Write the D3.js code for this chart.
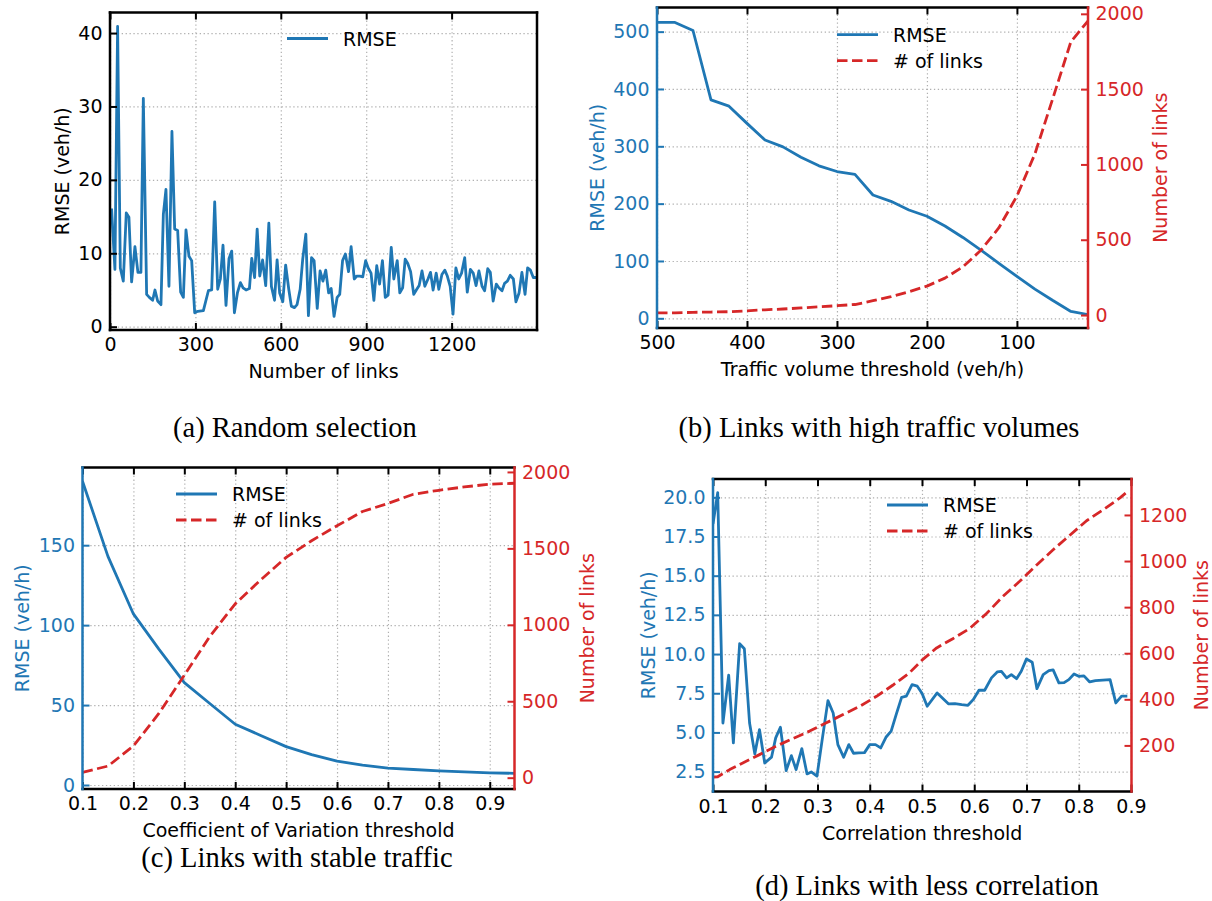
<!DOCTYPE html>
<html><head><meta charset="utf-8">
<script src="https://cdn.jsdelivr.net/npm/d3@7"></script>
<style>body{margin:0;background:#fff}</style>
</head><body><svg id="c" width="1212" height="901" xmlns="http://www.w3.org/2000/svg"></svg>
<script>
// ---------------- DATA ----------------
// (a) Random selection
const randX = [5.6,17.3,26.7,36.2,46.7,57.2,66.5,75.9,87.6,98.1,108.6,117.1,128.7,138.2,149.8,158,167.4,179,187.4,196.6,207.1,217.6,227.2,237.7,248.2,257.7,266.9,277.4,286.9,297.5,308,328,345.6,357.2,367.8,378.3,387.7,397,407.5,418.1,427.6,437,447.6,458.1,467.4,477.9,489.8,
  498,508,517,526,536,547,558,567,578,587,596,607,617,628,637,648,657,668,677,688,697,708,717,728,738,748,758,768,777,787,798,807,817,827,838,847,858,867,878,888,898,907,917,927,937,947,957,967,977,988,
  997,1009,1018,1028,1037,1046,1056,1067,1076,1086,1096,1106,1117,1126,1135,1146,1155,1166,1176,1185,1195,1205,1215,1225,1235,1246,1255,1266,1276,1286,1296,1307,1316,1327,1336,1346,1357,1366,1377,1386,1396,1406,1417,1426,1437,1447,1458,1467,1477,1487,1500];
const randRMSE = [16.1,7.8,40.9,8.0,6.2,15.5,14.9,6.1,10.9,7.4,7.4,31.1,4.4,4.0,3.6,5.0,3.5,3.0,15.3,18.7,5.5,26.6,13.3,13.1,4.7,4.0,13.2,9.6,9.0,1.9,2.1,2.2,4.9,5.0,17.0,5.1,6.5,11.1,2.9,9.3,10.3,1.9,4.6,6.0,5.3,5.0,5.2,
  9.3,6.7,13.3,6.9,9.1,5.6,14.1,5.5,3.6,9.1,4.6,3.4,8.4,5.1,2.8,2.6,3.0,5.1,9.2,12.6,1.5,9.4,9.0,2.5,7.6,6.2,7.7,4.6,5.2,1.4,4.0,4.4,9.0,9.9,7.5,10.9,6.5,6.9,6.9,6.8,9.0,8.0,7.3,3.6,8.3,5.8,9.0,4.0,4.3,10.8,
  6.5,9.0,4.6,5.3,9.2,8.6,7.5,4.4,5.0,5.6,7.6,5.5,6.5,7.4,5.0,7.3,5.1,7.1,7.7,6.9,5.5,1.7,8.0,6.5,7.3,9.4,4.7,7.8,7.3,5.6,7.6,5.5,4.9,7.9,7.4,3.5,5.8,5.3,4.9,5.9,6.2,7.0,6.5,3.4,4.6,7.4,4.4,8.0,7.7,6.7,6.7];
const aXTicks = [0,300,600,900,1200];
const aYTicks = [0,10,20,30,40];

// (b) Links with high traffic volumes
const volX = [500,480,460,440,420,400,380,360,340,320,300,280,260,240,220,200,180,160,140,120,100,80,60,40,20];
const volRMSE = [516,516,502,381,370,340,311,299,281,266,256,251,215,204,189,178,161,141,119,96,73,51,31,12,6];
const volLinks = [15,15,18,20,22,28,35,40,47,55,62,70,95,122,155,192,245,320,430,580,790,1070,1440,1815,1960];
const bXTicks = [500,400,300,200,100];
const bYTicks = [0,100,200,300,400,500];
const bY2Ticks = [0,500,1000,1500,2000];

// (c) Links with stable traffic
const cvX = [0.10,0.15,0.20,0.25,0.30,0.35,0.40,0.45,0.50,0.55,0.60,0.65,0.70,0.75,0.80,0.85,0.90,0.95];
const cvRMSE = [190,143,107,85,64,51,38,31,24,19,15,12.4,10.5,9.7,8.8,8.2,7.6,7.3];
const cvLinks = [35,76,207,420,670,924,1137,1294,1441,1550,1648,1741,1794,1854,1880,1902,1920,1926];
const cXTicks = [0.1,0.2,0.3,0.4,0.5,0.6,0.7,0.8,0.9];
const cYTicks = [0,50,100,150];
const cY2Ticks = [0,500,1000,1500,2000];

// (d) Links with less correlation
const corrX = [0.100,0.109,0.119,0.130,0.139,0.151,0.160,0.170,0.180,0.189,0.199,0.212,0.220,0.229,0.240,0.250,0.259,0.270,0.280,0.288,0.299,0.309,0.320,0.330,0.339,0.350,0.360,0.369,0.379,0.390,0.400,0.411,0.421,0.431,0.441,0.451,0.461,0.470,0.481,0.491,0.500,0.510,0.529,0.551,0.563,0.576,0.588,0.598,0.609,0.620,0.633,0.644,0.652,0.662,0.671,0.681,0.690,0.700,0.711,0.720,0.732,0.743,0.751,0.762,0.772,0.781,0.791,0.800,0.810,0.821,0.832,0.860,0.871,0.882,0.893];
const corrRMSE = [18.3,20.3,5.6,8.65,4.33,10.66,10.34,5.6,3.63,5.18,3.05,3.42,4.65,5.33,2.56,3.52,2.63,3.97,2.35,2.48,2.21,4.54,7.03,6.24,4.22,3.42,4.22,3.67,3.69,3.71,4.22,4.22,4.01,4.69,5.08,6.18,7.24,7.31,8.05,7.95,7.5,6.67,7.52,6.82,6.84,6.77,6.73,7.09,7.69,7.69,8.48,8.86,8.90,8.48,8.69,8.43,8.90,9.69,9.48,7.79,8.69,8.94,8.99,8.16,8.18,8.37,8.73,8.58,8.61,8.22,8.30,8.37,6.88,7.31,7.31];
const corrLinksX = [0.100,0.109,0.132,0.157,0.189,0.221,0.253,0.285,0.317,0.349,0.381,0.413,0.444,0.476,0.500,0.528,0.559,0.591,0.623,0.655,0.687,0.719,0.751,0.783,0.815,0.847,0.879,0.895];
const corrLinks = [62,64,95,124,160,197,230,262,298,334,370,413,461,515,570,623,663,707,771,847,912,982,1049,1112,1175,1223,1274,1305];
const dXTicks = [0.1,0.2,0.3,0.4,0.5,0.6,0.7,0.8,0.9];
const dYTicks = [2.5,5.0,7.5,10.0,12.5,15.0,17.5,20.0];
const dY2Ticks = [200,400,600,800,1000,1200];

// ---------------- DRAW ----------------
const svg = d3.select("#c");
const BLUE = "#1f77b4", RED = "#d62728", BLACK = "#000";
const FONT = "'DejaVu Sans', sans-serif";
const SERIF = "'Liberation Serif','Times New Roman', serif";
const FS = 19;
let clipId = 0;

function drawPanel(p) {
  const g = svg.append("g");
  const x = d3.scaleLinear().domain(p.xDomain).range([p.l, p.r]);
  const y = d3.scaleLinear().domain(p.yDomain).range([p.b, p.t]);
  const y2 = p.y2Domain ? d3.scaleLinear().domain(p.y2Domain).range([p.b, p.t]) : null;
  const H = p.b - p.t, W = p.r - p.l;

  // grid
  const gx = g.append("g").attr("transform", `translate(0,${p.b})`)
    .call(d3.axisBottom(x).tickValues(p.xTicks).tickSize(-H).tickFormat(""));
  const gy = g.append("g").attr("transform", `translate(${p.l},0)`)
    .call(d3.axisLeft(y).tickValues(p.yTicks).tickSize(-W).tickFormat(""));
  [gx, gy].forEach(a => {
    a.select(".domain").remove();
    a.selectAll("line").attr("stroke", "#b0b0b0").attr("stroke-width", 1.2).attr("stroke-dasharray", "1.3,2.6");
  });

  // lines
  const cid = "clip" + (clipId++);
  svg.append("clipPath").attr("id", cid).append("rect")
    .attr("x", p.l).attr("y", p.t).attr("width", W).attr("height", H);
  const lg = g.append("g").attr("clip-path", `url(#${cid})`);
  p.series.forEach(s => {
    const sc = s.axis === 2 ? y2 : y;
    const line = d3.line().x((d, i) => x(s.x[i])).y(d => sc(d));
    lg.append("path").datum(s.y).attr("d", line).attr("fill", "none")
      .attr("stroke", s.color).attr("stroke-width", 2.8)
      .attr("stroke-linejoin", "round")
      .attr("stroke-dasharray", s.dash ? "10.5,4.5" : null);
  });

  // axes (ticks inward)
  const styleAxis = (a, col) => {
    a.select(".domain").remove();
    a.selectAll(".tick line").attr("stroke", col).attr("stroke-width", 2);
    a.selectAll(".tick text").attr("fill", col).attr("font-family", FONT).attr("font-size", FS);
  };
  const ax = g.append("g").attr("transform", `translate(0,${p.b})`)
    .call(d3.axisBottom(x).tickValues(p.xTicks).tickSizeInner(-7).tickSizeOuter(0).tickPadding(8).tickFormat(p.xFormat || d3.format("")));
  styleAxis(ax, BLACK);
  const at = g.append("g").attr("transform", `translate(0,${p.t})`)
    .call(d3.axisTop(x).tickValues(p.xTicks).tickSizeInner(-7).tickSizeOuter(0).tickFormat(""));
  styleAxis(at, BLACK);
  const lcol = p.y2Domain ? BLUE : BLACK;
  const ay = g.append("g").attr("transform", `translate(${p.l},0)`)
    .call(d3.axisLeft(y).tickValues(p.yTicks).tickSizeInner(-7).tickSizeOuter(0).tickPadding(7.5).tickFormat(p.yFormat || d3.format("")));
  styleAxis(ay, lcol);
  if (y2) {
    const ar = g.append("g").attr("transform", `translate(${p.r},0)`)
      .call(d3.axisRight(y2).tickValues(p.y2Ticks).tickSizeInner(-7).tickSizeOuter(0).tickPadding(7.5).tickFormat(d3.format("")));
    styleAxis(ar, RED);
  }

  // spines
  const sp = (x1, y1, x2, y2c, col) => g.append("line").attr("x1", x1).attr("y1", y1).attr("x2", x2).attr("y2", y2c)
    .attr("stroke", col).attr("stroke-width", 2.5).attr("stroke-linecap", "square");
  sp(p.l, p.t, p.r, p.t, BLACK);
  sp(p.l, p.b, p.r, p.b, BLACK);
  sp(p.l, p.t, p.l, p.b, lcol);
  sp(p.r, p.t, p.r, p.b, y2 ? RED : BLACK);

  // labels
  const txt = (t, xx, yy, opts = {}) => g.append("text").text(t)
    .attr("x", xx).attr("y", yy).attr("font-family", opts.font || FONT)
    .attr("font-size", opts.size || FS).attr("fill", opts.color || BLACK)
    .attr("text-anchor", opts.anchor || "middle");
  txt(p.xLabel, (p.l + p.r) / 2, p.b + 48);
  g.append("text").text(p.yLabel).attr("transform", `translate(${p.yLabelX},${(p.t + p.b) / 2}) rotate(-90)`)
    .attr("text-anchor", "middle").attr("dominant-baseline", "central")
    .attr("font-family", FONT).attr("font-size", FS).attr("fill", lcol);
  if (p.y2Label) {
    g.append("text").text(p.y2Label).attr("transform", `translate(${p.y2LabelX},${(p.t + p.b) / 2}) rotate(-90)`)
      .attr("text-anchor", "middle").attr("dominant-baseline", "central")
      .attr("font-family", FONT).attr("font-size", FS).attr("fill", RED);
  }
  txt(p.caption, p.capX, p.capY, { font: SERIF, size: 28.5 });

  // legend
  p.legend.forEach((e, i) => {
    const ly = p.legY + i * 26;
    g.append("line").attr("x1", p.legX).attr("x2", p.legX + 41).attr("y1", ly).attr("y2", ly)
      .attr("stroke", e.color).attr("stroke-width", 2.8).attr("stroke-dasharray", e.dash ? "10.5,4.5" : null);
    txt(e.label, p.legX + 56, ly, { anchor: "start" }).attr("dominant-baseline", "central");
  });
}

drawPanel({
  l: 110, r: 537, t: 12.5, b: 330,
  xDomain: [0, 1500], yDomain: [-0.45, 42.8],
  xTicks: aXTicks, yTicks: aYTicks,
  series: [{ x: randX, y: randRMSE, color: BLUE }],
  xLabel: "Number of links", yLabel: "RMSE (veh/h)", yLabelX: 61.5,
  caption: "(a) Random selection", capX: 295, capY: 437,
  legend: [{ label: "RMSE", color: BLUE }], legX: 287, legY: 38.5
});

drawPanel({
  l: 657, r: 1088, t: 7.5, b: 328,
  xDomain: [500, 21], yDomain: [-16.9, 542.1], y2Domain: [-86, 2042],
  xTicks: bXTicks, yTicks: bYTicks, y2Ticks: bY2Ticks,
  series: [{ x: volX, y: volRMSE, color: BLUE }, { x: volX, y: volLinks, color: RED, dash: true, axis: 2 }],
  xLabel: "Traffic volume threshold (veh/h)", yLabel: "RMSE (veh/h)", yLabelX: 597,
  y2Label: "Number of links", y2LabelX: 1160,
  caption: "(b) Links with high traffic volumes", capX: 879, capY: 437,
  legend: [{ label: "RMSE", color: BLUE }, { label: "# of links", color: RED, dash: true }], legX: 837, legY: 34.7
});

drawPanel({
  l: 82.5, r: 514.5, t: 467.5, b: 789,
  xDomain: [0.1, 0.9486], yDomain: [-2.5, 198.6], y2Domain: [-74, 2029],
  xTicks: cXTicks, yTicks: cYTicks, y2Ticks: cY2Ticks, xFormat: d3.format(".1f"),
  series: [{ x: cvX, y: cvRMSE, color: BLUE }, { x: cvX, y: cvLinks, color: RED, dash: true, axis: 2 }],
  xLabel: "Coefficient of Variation threshold", yLabel: "RMSE (veh/h)", yLabelX: 22,
  y2Label: "Number of links", y2LabelX: 587,
  caption: "(c) Links with stable traffic", capX: 297, capY: 867,
  legend: [{ label: "RMSE", color: BLUE }, { label: "# of links", color: RED, dash: true }], legX: 176, legY: 494
});

drawPanel({
  l: 713, r: 1131.5, t: 479, b: 791.5,
  xDomain: [0.1, 0.901], yDomain: [1.23, 21.17], y2Domain: [0, 1356],
  xTicks: dXTicks, yTicks: dYTicks, y2Ticks: dY2Ticks, xFormat: d3.format(".1f"), yFormat: d3.format(".1f"),
  series: [{ x: corrX, y: corrRMSE, color: BLUE }, { x: corrLinksX, y: corrLinks, color: RED, dash: true, axis: 2 }],
  xLabel: "Correlation threshold", yLabel: "RMSE (veh/h)", yLabelX: 648,
  y2Label: "Number of links", y2LabelX: 1201,
  caption: "(d) Links with less correlation", capX: 927, capY: 895,
  legend: [{ label: "RMSE", color: BLUE }, { label: "# of links", color: RED, dash: true }], legX: 887, legY: 505
});
</script>
</body></html>
